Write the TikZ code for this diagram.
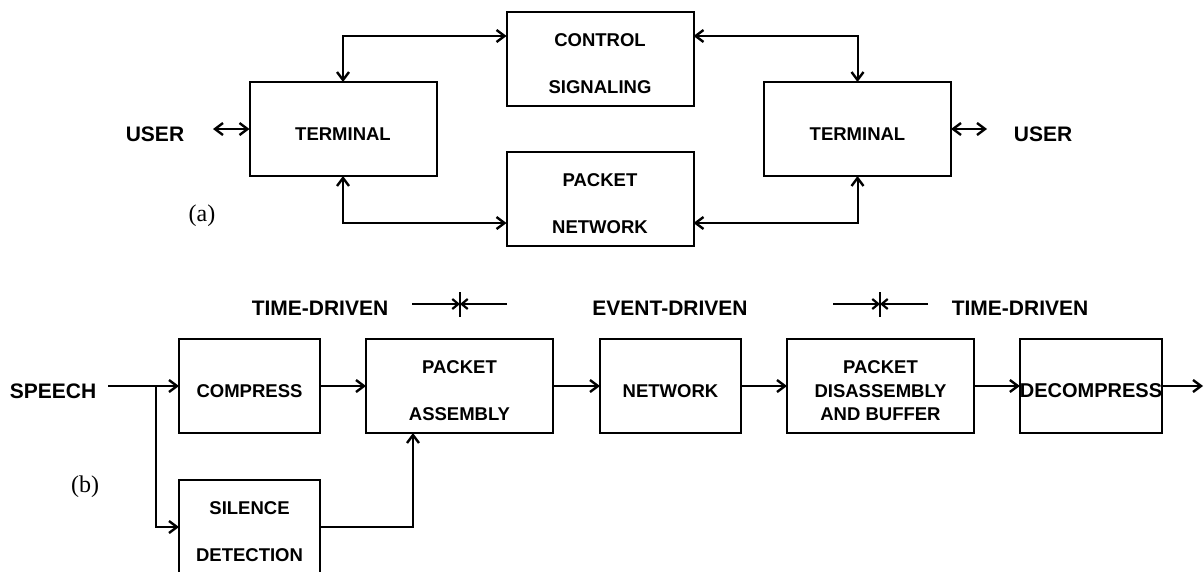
\documentclass[tikz,border=0pt]{standalone}
\usepackage{fontspec}
\setmainfont{Liberation Serif}
\setsansfont{Liberation Sans}
\usetikzlibrary{arrows.meta}
\newcommand\bxfont{\sffamily\bfseries\fontsize{18.5}{22.5}\selectfont}
\newcommand\bxfontb{\sffamily\bfseries\fontsize{18.5}{23.5}\selectfont}
\newcommand\bxfontc{\sffamily\bfseries\fontsize{20}{24}\selectfont}
\newcommand\lgfont{\sffamily\bfseries\fontsize{21}{25}\selectfont}
\newcommand\capfont{\rmfamily\fontsize{24}{28}\selectfont}
\newcommand\upr{\rule{0pt}{23pt}}
\begin{document}
\begin{tikzpicture}[x=1pt,y=-1pt,
  >={Straight Barb[length=8pt,width=12pt,line width=2.4pt]},
  box/.style={draw, line width=2pt, inner sep=0pt, outer sep=0pt, align=center, font=\bxfont},
  wide/.style={box, minimum width=187pt, minimum height=94pt},
  narrow/.style={box, minimum width=141pt, minimum height=94pt},
  lg/.style={font=\lgfont, inner sep=0pt},
  sublabel/.style={font=\capfont, inner sep=0pt},
  conn/.style={line width=2pt},
  thin/.style={line width=1.4pt},
  mk/.style={line width=1.5pt, -{Straight Barb[length=6pt,width=10pt,line width=2.2pt]}}]
\useasboundingbox (0,0) rectangle (1204,571);

% ---------- (a) ----------
\node[wide] (ctrl) at (600,59) {\upr CONTROL\\[24.5pt]SIGNALING};
\node[wide] (pnet) at (600,199) {\upr PACKET\\[24.5pt]NETWORK};
\node[wide] (termL) at (343,129) {\upr TERMINAL};
\node[wide] (termR) at (857.5,129) {\upr TERMINAL};
\node[lg] (userL) at (155,134) {USER};
\node[lg] (userR) at (1043,134) {USER};
\node[sublabel] (la) at (202,216) {(a)};
\coordinate (uL) at (213,129);
\coordinate (uR) at (987,129);

\draw[conn,<->] (termL.north) |- ([yshift=23pt]ctrl.west);
\draw[conn,<->] (termR.north) |- ([yshift=23pt]ctrl.east);
\draw[conn,<->] (termL.south) |- ([yshift=-24pt]pnet.west);
\draw[conn,<->] (termR.south) |- ([yshift=-24pt]pnet.east);
\draw[thin,<->] (uL) -- (termL.west);
\draw[thin,<->] (termR.east) -- (uR);

% ---------- (b) ----------
\node[lg] (td1) at (320,308) {TIME-DRIVEN};
\node[lg] (ed) at (670,308) {EVENT-DRIVEN};
\node[lg] (td2) at (1020,308) {TIME-DRIVEN};
\coordinate (m1a) at (412,304);
\coordinate (m1c) at (460,304);
\coordinate (m1b) at (507,304);
\coordinate (m2a) at (833,304);
\coordinate (m2c) at (880,304);
\coordinate (m2b) at (928,304);
\draw[mk] (m1a) -- (m1c);
\draw[mk] (m1b) -- (m1c);
\draw[line width=1.6pt] ([yshift=12pt]m1c) -- ([yshift=-13pt]m1c);
\draw[mk] (m2a) -- (m2c);
\draw[mk] (m2b) -- (m2c);
\draw[line width=1.6pt] ([yshift=12pt]m2c) -- ([yshift=-13pt]m2c);

\node[lg] (speech) at (53,391) {SPEECH};
\node[narrow] (comp) at (249.5,386) {\upr COMPRESS};
\node[wide] (asm) at (459.5,386) {\upr PACKET\\[24.5pt]ASSEMBLY};
\node[narrow] (net) at (670.5,386) {\upr NETWORK};
\node[wide, font=\bxfontb] (dis) at (880.5,386) {\upr PACKET\\DISASSEMBLY\\AND BUFFER};
\node[box, font=\bxfontc, minimum width=140pt, minimum height=94pt] (dec) at (1091,386) {\upr DECOMPRESS};
\node[narrow] (sil) at (249.5,527) {\upr SILENCE\\[24.5pt]DETECTION};
\node[sublabel] (lb) at (85,487) {(b)};

\coordinate (sp) at (108,386);
\coordinate (br) at (156,386);
\coordinate (out) at (1203,386);
\draw[conn,->] (sp) -- (comp.west);
\draw[conn,->] (br) |- (sil.west);
\draw[conn,->] (comp.east) -- (asm.west);
\draw[conn,->] (sil.east) -| ([xshift=-46.5pt]asm.south);
\draw[conn,->] (asm.east) -- (net.west);
\draw[conn,->] (net.east) -- (dis.west);
\draw[conn,->] (dis.east) -- (dec.west);
\draw[conn,->] (dec.east) -- (out);
\end{tikzpicture}
\end{document}
